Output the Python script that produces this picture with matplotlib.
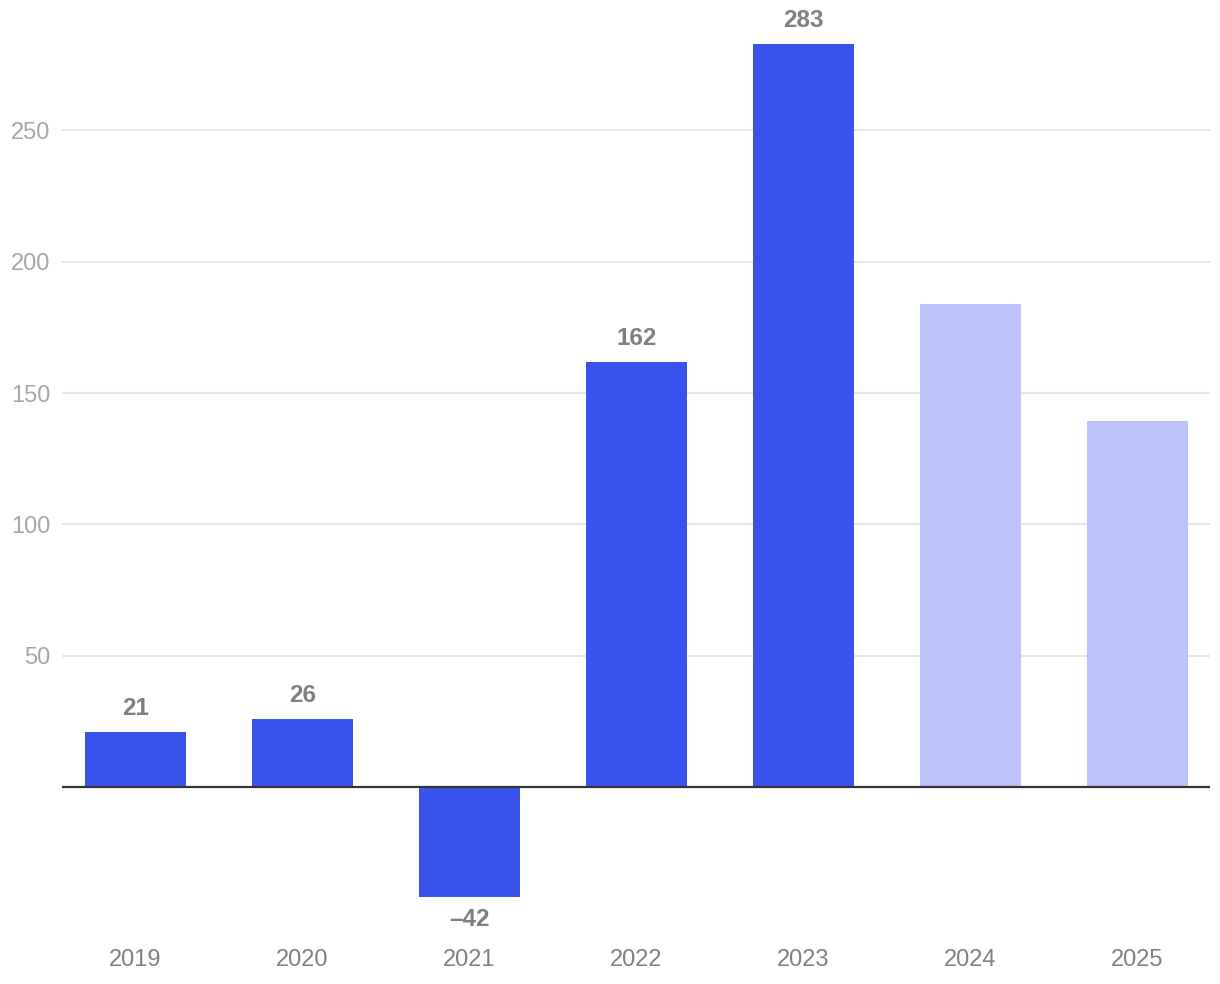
import numpy as np
import matplotlib
matplotlib.use("Agg")
import matplotlib.pyplot as plt

years = ["2019", "2020", "2021", "2022", "2023", "2024", "2025"]
values = [21, 26, -42, 162, 283, 184, 139.5]
shown_labels = ["21", "26", "\u201342", "162", "283", "", ""]
dark_blue = "#3A53EC"
light_blue = "#BCC3F8"
bar_colors = [dark_blue] * 5 + [light_blue] * 2

plt.rcParams['font.family'] = ['Liberation Sans', 'DejaVu Sans']

W, H = 1220, 984
fig = plt.figure(figsize=(W / 100, H / 100), dpi=100)
# axes placed in pixel terms: left 62, right 1210, top 20, bottom 940
ax = fig.add_axes([62 / W, 1 - 940 / H, (1210 - 62) / W, (940 - 20) / H])

x = np.arange(len(years))
ax.bar(x, values, width=0.605, color=bar_colors, zorder=2)

# y scale: 0 at px 787, 50 units per 131.3 px
px_per_unit = 131.3 / 50
ax.set_ylim(-(940 - 787) / px_per_unit, (787 - 20) / px_per_unit)
ax.set_xlim(-0.44, 6.435)

ax.set_yticks([50, 100, 150, 200, 250])
ax.yaxis.grid(True, color="#E6E6E6", linewidth=1.5, zorder=0)
ax.axhline(0, color="#333333", linewidth=1.6, zorder=3)

for s in ax.spines.values():
    s.set_visible(False)

ax.tick_params(axis='y', length=0, pad=8.5, labelsize=17, labelcolor="#A6A6A6")
ax.set_xticks(x)
ax.set_xticklabels(years)
ax.tick_params(axis='x', length=0, pad=6.5, labelsize=17, labelcolor="#808080")

for xi, v, lab in zip(x, values, shown_labels):
    if not lab:
        continue
    off = 16.5 if v >= 0 else -16
    ax.annotate(lab, (xi, v), xytext=(0, off), textcoords="offset points",
                ha="center", va="center", fontsize=17.5, fontweight="bold",
                color="#7F7F7F")

fig.savefig("out.png", dpi=100)
